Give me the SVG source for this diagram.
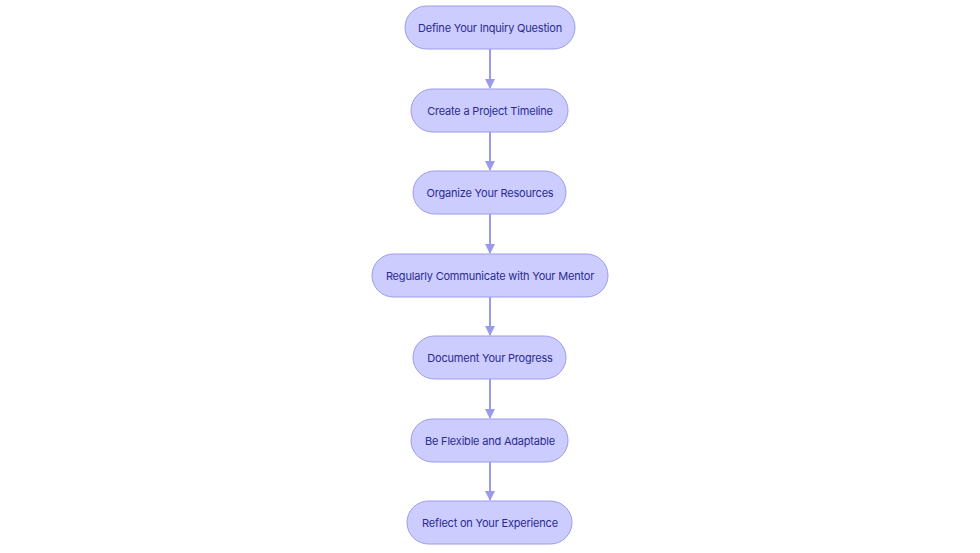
<svg xmlns="http://www.w3.org/2000/svg" width="980" height="553" viewBox="0 0 980 553">
<style>
.n rect{fill:#ccccff;stroke:#9a9aeb;stroke-width:1}
.n text{font-family:Inter,"Liberation Sans",sans-serif;font-size:11px;letter-spacing:-0.2px;fill:#2b2b8f;text-anchor:middle;dominant-baseline:central}
.e line{stroke:#9a9aeb;stroke-width:2}
</style>
<defs><marker id="a" viewBox="0 0 10 10" refX="9" refY="5" markerWidth="5" markerHeight="5" orient="auto"><path d="M0,0L10,5L0,10z" fill="#9a9aeb"/></marker></defs>
<rect width="980" height="553" fill="#fff"/>
<g class="e">
<line x1="490" y1="49" x2="490" y2="88" marker-end="url(#a)"/>
<line x1="490" y1="132" x2="490" y2="170" marker-end="url(#a)"/>
<line x1="490" y1="214" x2="490" y2="253" marker-end="url(#a)"/>
<line x1="490" y1="297" x2="490" y2="335" marker-end="url(#a)"/>
<line x1="490" y1="379" x2="490" y2="418" marker-end="url(#a)"/>
<line x1="490" y1="462" x2="490" y2="500" marker-end="url(#a)"/>
</g>
<g id="n1" class="n"><rect x="405" y="6" width="170" height="43" rx="21.5"/><text x="490" y="27.5">Define Your Inquiry Question</text></g>
<g id="n2" class="n"><rect x="411" y="89" width="157" height="43" rx="21.5"/><text x="490" y="110.5">Create a Project Timeline</text></g>
<g id="n3" class="n"><rect x="413" y="171" width="153" height="43" rx="21.5"/><text x="490" y="192.5">Organize Your Resources</text></g>
<g id="n4" class="n"><rect x="372" y="254" width="236" height="43" rx="21.5"/><text x="490" y="275.5">Regularly Communicate with Your Mentor</text></g>
<g id="n5" class="n"><rect x="413" y="336" width="153" height="43" rx="21.5"/><text x="490" y="357.5">Document Your Progress</text></g>
<g id="n6" class="n"><rect x="411" y="419" width="157" height="43" rx="21.5"/><text x="490" y="440.5">Be Flexible and Adaptable</text></g>
<g id="n7" class="n"><rect x="407" y="501" width="165" height="43" rx="21.5"/><text x="490" y="522.5">Reflect on Your Experience</text></g>
</svg>
